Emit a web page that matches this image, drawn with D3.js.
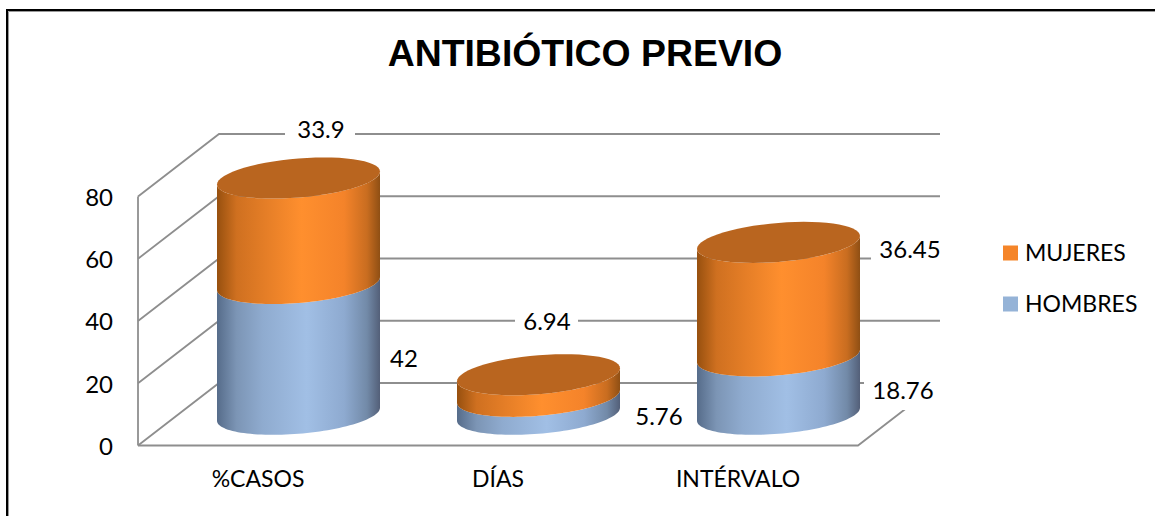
<!DOCTYPE html>
<html><head><meta charset="utf-8">
<script src="https://cdn.jsdelivr.net/npm/d3@7"></script>
<style>html,body{margin:0;padding:0;background:#fff}svg{display:block}text{font-family:Lato,sans-serif;fill:#000}</style>
</head><body><div id="c"></div>
<script>
const categories = ["%CASOS","DÍAS","INTÉRVALO"];
const hombres = [42,5.76,18.76];
const mujeres = [33.9,6.94,36.45];
const yTicks = [0,20,40,60,80];
const seriesNames = ["MUJERES","HOMBRES"];
const chartTitle = "ANTIBIÓTICO PREVIO";

const W=1155,H=516;
const svg=d3.select("#c").append("svg").attr("width",W).attr("height",H);
const defs=svg.append("defs");
const x=d3.scaleBand().domain(categories).range([138,858]);
const y=d3.scaleLinear().domain([0,80]).range([445.5,196.5]);
const depth={x:81,y:-62.5};
const grid="#8e8e8e";
const r=81.5, tiltY=6.5, ry=19.5;

// outer frame
svg.append("path").attr("d",`M7 ${H}V10H${W}`).attr("fill","none").attr("stroke","#000").attr("stroke-width",2);
svg.append("path").attr("d",`M8.5 ${H}V11.5H${W}`).attr("fill","none").attr("stroke","#999").attr("stroke-width",1);

// walls
const g=svg.append("g").attr("stroke",grid).attr("stroke-width",1.8).attr("fill","none");
const xL=x.range()[0],xR=x.range()[1];
yTicks.forEach(t=>{
  g.append("path").attr("d",`M${xL} ${y(t)}L${xL+depth.x} ${y(t)+depth.y}H${xR+depth.x+1}`);
});
g.append("path").attr("d",`M${xL} ${y(0)}V${y(80)}`);
g.append("path").attr("d",`M${xL} ${y(0)}H${xR}L${xR+depth.x} ${y(0)+depth.y}`);

function grad(id,stops,x0,x1){
  const l=defs.append("linearGradient").attr("id",id).attr("gradientUnits","userSpaceOnUse")
    .attr("x1",x0).attr("x2",x1).attr("y1",0).attr("y2",0);
  stops.forEach(s=>l.append("stop").attr("offset",s[0]).attr("stop-color",s[1]));
}
const blueStops=[[0,"#566c8a"],[.12,"#7c95b5"],[.28,"#8fabcf"],[.55,"#a1bfe5"],[.78,"#8eaad0"],[.92,"#728aa8"],[1,"#535f78"]];
const orangeStops=[[0,"#97500f"],[.12,"#cf7020"],[.3,"#e57e27"],[.52,"#ff8f2e"],[.78,"#f4832a"],[.92,"#c96d20"],[1,"#8f4f14"]];

const tVals=d3.range(0,1.0001,1/60);
function ellipsePts(cx,cy,t0,t1){
  return tVals.map(u=>{const t=t0+(t1-t0)*u;
    return [cx+r*Math.cos(t), cy-tiltY*Math.cos(t)+ry*Math.sin(t)];});
}
const line=d3.line();
function side(cx,yBot,yTop){
  const lo=ellipsePts(cx,yBot,Math.PI,0);
  const up=ellipsePts(cx,yTop,0,Math.PI);
  return line(lo.concat(up))+"Z";
}
categories.forEach((c,i)=>{
  const cx=x(c)+x.bandwidth()/2+depth.x/2;
  const y0=y(0)+depth.y/2;
  const off=y0-y(0);
  const yA=y(hombres[i])+off, yB=y(hombres[i]+mujeres[i])+off;
  grad("b"+i,blueStops,cx-r,cx+r);
  grad("o"+i,orangeStops,cx-r,cx+r);
  svg.append("path").attr("d",side(cx,y0,yA)).attr("fill",`url(#b${i})`);
  svg.append("path").attr("d",side(cx,yA,yB)).attr("fill",`url(#o${i})`);
  svg.append("path").attr("d",line(ellipsePts(cx,yB,0,2*Math.PI))+"Z").attr("fill","#b9651f");
});

// data labels: white masks interrupt the gridlines
const labelPos=[
 {t:mujeres[0],x:321,y:130,m:[285,118,70,26]},
 {t:hombres[0],x:404,y:359},
 {t:mujeres[1],x:547,y:322,m:[515,310,63,26]},
 {t:hombres[1],x:659,y:417},
 {t:mujeres[2],x:910,y:250,m:[871,235,79,30]},
 {t:hombres[2],x:903,y:391,m:[864,372,80,38]}
];
labelPos.forEach(d=>{
  if(d.m) svg.append("rect").attr("x",d.m[0]).attr("y",d.m[1]).attr("width",d.m[2]).attr("height",d.m[3]).attr("fill","#fff");
});
labelPos.forEach(d=>{
  svg.append("text").attr("x",d.x).attr("y",d.y).attr("dy","0.35em").attr("text-anchor","middle")
    .attr("font-size",24).text(d.t);
});

// axis labels
yTicks.forEach(t=>svg.append("text").attr("x",113).attr("y",y(t)+1).attr("dy","0.35em").attr("text-anchor","end").attr("font-size",24).text(t));
categories.forEach(c=>svg.append("text").attr("x",x(c)+x.bandwidth()/2).attr("y",479).attr("dy","0.35em").attr("text-anchor","middle").attr("font-size",23).text(c));

// title
svg.append("text").attr("x",585).attr("y",53).attr("dy","0.35em").attr("text-anchor","middle")
  .style("font-family","'Liberation Sans',Arial,sans-serif").attr("font-weight","bold").attr("font-size",37.4).text(chartTitle);

// legend
const legendColors=["#f58529","#95b3d7"];
seriesNames.forEach((n,i)=>{
  const ly=253+i*51;
  svg.append("rect").attr("x",1003).attr("y",ly-7.5).attr("width",15).attr("height",15).attr("fill",legendColors[i]);
  svg.append("text").attr("x",1025).attr("y",ly).attr("dy","0.35em").attr("font-size",23).text(n);
});
</script></body></html>
